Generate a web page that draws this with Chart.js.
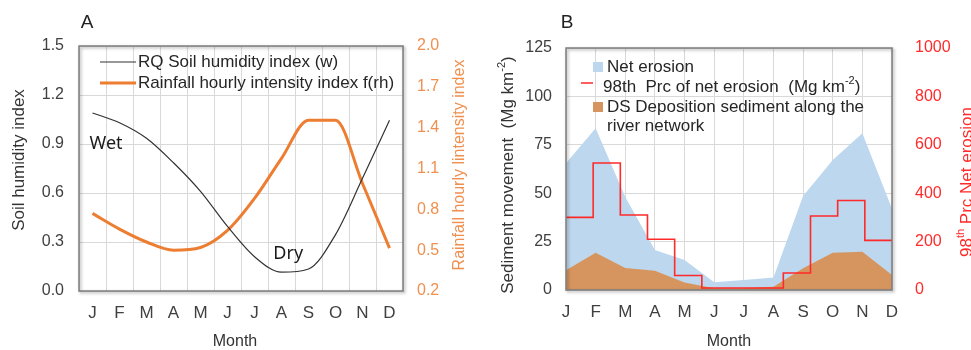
<!DOCTYPE html>
<html>
<head>
<meta charset="utf-8">
<script src="https://cdn.jsdelivr.net/npm/chart.js@4.4.0/dist/chart.umd.min.js"></script>
<style>
  body { margin: 0; background: #fff; }
  #wrap { position: relative; width: 971px; height: 350px; overflow: hidden; }
  #chartA { position: absolute; left: 0; top: 0; }
  #chartB { position: absolute; left: 490px; top: 0; }
</style>
</head>
<body>
<div id="wrap">
  <canvas id="chartA" width="490" height="350"></canvas>
  <canvas id="chartB" width="481" height="350"></canvas>
</div>
<script>
// months shared by both panels
const months = ["J", "F", "M", "A", "M", "J", "J", "A", "S", "O", "N", "D"];

// panel A
const soilHumidity = [1.09, 1.03, 0.935, 0.785, 0.61, 0.395, 0.21, 0.115, 0.135, 0.345, 0.69, 1.045];
const rainIntensity = [0.77, 0.655, 0.56, 0.5, 0.52, 0.645, 0.88, 1.175, 1.455, 1.455, 0.99, 0.515];
const humidityRange = [0, 1.5, 0.3];
const rainRange = [0.2, 2.0, 0.3];

// panel B
const netErosion = [65.5, 83.6, 48, 20.7, 15.5, 4, 5.2, 6.4, 48.5, 67.2, 81, 42];
const deposition = [10.2, 19.3, 11.3, 10, 3.9, 0.9, 0.9, 1.7, 11.2, 19.3, 19.8, 7.8];
const prc98 = [300, 525, 310, 210, 60, 8, 8, 8, 70, 306, 370, 205];
const sedimentRange = [0, 125, 25];
const prcRange = [0, 1000, 200];

const FONT = "'Liberation Sans', Arial, sans-serif";
const NOTE_FONT = "'Noto Sans', 'Open Sans', sans-serif";
const GRID = "#d9d9d9";
const TXT = "#404040";
const ORANGE = "#ED7D31";
const ORANGE_TXT = "#EF9050";
const RED = "#FF2A2A";
const BLUE_FILL = "#BDD7EE";
const BROWN_FILL = "#D6955F";

Chart.defaults.font.family = FONT;
Chart.defaults.animation = false;

// draw a string made of normal and superscript parts, centred on (x, y)
function richText(ctx, parts, x, y, size, color, rot) {
  ctx.save();
  ctx.translate(x, y);
  if (rot) ctx.rotate(rot);
  ctx.fillStyle = color;
  ctx.textBaseline = "middle";
  ctx.textAlign = "left";
  let total = 0;
  parts.forEach(p => {
    ctx.font = (p.sup ? Math.round(size * 0.65) : size) + "px " + FONT;
    p.w = ctx.measureText(p.t).width;
    total += p.w;
  });
  let cx = -total / 2;
  parts.forEach(p => {
    ctx.font = (p.sup ? Math.round(size * 0.65) : size) + "px " + FONT;
    ctx.fillText(p.t, cx, p.sup ? -size * 0.35 : 0);
    cx += p.w;
  });
  ctx.restore();
}

// same, but left aligned, for legend rows
function richTextLeft(ctx, parts, x, y) {
  const size = 17;
  ctx.save();
  ctx.fillStyle = "#262626";
  ctx.textBaseline = "middle";
  ctx.textAlign = "left";
  let cx = x;
  parts.forEach(p => {
    ctx.font = (p.sup ? 11 : size) + "px " + FONT;
    ctx.fillText(p.t, cx, p.sup ? y - 6 : y);
    cx += ctx.measureText(p.t).width;
  });
  ctx.restore();
}

function frame(chart) {
  const a = chart.chartArea;
  const ctx = chart.ctx;
  ctx.save();
  ctx.shadowColor = "rgba(0,0,0,0.35)";
  ctx.shadowBlur = 3;
  ctx.shadowOffsetX = 1.5;
  ctx.shadowOffsetY = 1.5;
  ctx.strokeStyle = "#7f7f7f";
  ctx.lineWidth = 1.5;
  ctx.strokeRect(a.left, a.top, a.right - a.left, a.bottom - a.top);
  ctx.restore();
}

const decorA = {
  id: "decorA",
  afterDraw(chart) {
    const ctx = chart.ctx;
    frame(chart);
    const xs = chart.scales.x, ys = chart.scales.y;

    richText(ctx, [{ t: "A" }], 87, 23, 19, "#222");
    richText(ctx, [{ t: "Soil humidity index" }], 19, 160, 17, "#333", -Math.PI / 2);
    richText(ctx, [{ t: "Rainfall hourly lintensity index" }], 460, 165, 16, ORANGE_TXT, -Math.PI / 2);
    richText(ctx, [{ t: "Month" }], 235, 342, 16, "#333");

    // legend
    ctx.save();
    ctx.lineCap = "butt";
    ctx.strokeStyle = "#333"; ctx.lineWidth = 1.2;
    ctx.beginPath(); ctx.moveTo(100, 62); ctx.lineTo(136, 62); ctx.stroke();
    ctx.strokeStyle = ORANGE; ctx.lineWidth = 3;
    ctx.beginPath(); ctx.moveTo(100, 83); ctx.lineTo(136, 83); ctx.stroke();
    ctx.restore();
    richTextLeft(ctx, [{ t: "RQ Soil humidity index (w)" }], 138, 62);
    richTextLeft(ctx, [{ t: "Rainfall hourly intensity index f(rh)" }], 138, 83);

    // notes
    ctx.save();
    ctx.font = "18px " + NOTE_FONT;
    ctx.fillStyle = "#1a1a1a";
    ctx.textBaseline = "middle";
    ctx.textAlign = "left";
    ctx.fillText("Wet", xs.getPixelForValue(0) - 3, ys.getPixelForValue(0.9));
    ctx.textAlign = "center";
    ctx.fillText("Dry", xs.getPixelForValue(7.25), ys.getPixelForValue(0.23));
    ctx.restore();
  }
};

const decorB = {
  id: "decorB",
  afterDraw(chart) {
    const ctx = chart.ctx;
    frame(chart);

    richText(ctx, [{ t: "B" }], 77, 23, 19, "#222");
    richText(ctx, [{ t: "Sediment movement  (Mg km" }, { t: "-2", sup: true }, { t: ")" }], 18, 175, 17, "#333", -Math.PI / 2);
    richText(ctx, [{ t: "98" }, { t: "th", sup: true }, { t: " Prc Net erosion" }], 477, 182, 17, RED, -Math.PI / 2);
    richText(ctx, [{ t: "Month" }], 239, 342, 16, "#333");

    // legend
    ctx.save();
    ctx.fillStyle = BLUE_FILL;
    ctx.fillRect(103, 62, 10, 10);
    ctx.fillStyle = BROWN_FILL;
    ctx.fillRect(103, 102, 10, 10);
    ctx.strokeStyle = RED; ctx.lineWidth = 1.5;
    ctx.beginPath(); ctx.moveTo(91, 83); ctx.lineTo(103, 83); ctx.stroke();
    ctx.restore();
    richTextLeft(ctx, [{ t: "Net erosion" }], 117, 67);
    richTextLeft(ctx, [{ t: "98th  Prc of net erosion  (Mg km" }, { t: "-2", sup: true }, { t: ")" }], 113, 87);
    richTextLeft(ctx, [{ t: "DS Deposition sediment along the" }], 117, 107);
    richTextLeft(ctx, [{ t: "river network" }], 117, 126);
  }
};

new Chart(document.getElementById("chartA"), {
  type: "line",
  data: {
    labels: months,
    datasets: [
      {
        label: "RQ Soil humidity index (w)",
        data: soilHumidity,
        borderColor: "#333",
        borderWidth: 1.2,
        pointRadius: 0,
        cubicInterpolationMode: "monotone",
        yAxisID: "y",
      },
      {
        label: "Rainfall hourly intensity index f(rh)",
        data: rainIntensity,
        borderColor: ORANGE,
        borderWidth: 3,
        pointRadius: 0,
        cubicInterpolationMode: "monotone",
        yAxisID: "y1",
      },
    ],
  },
  options: {
    responsive: false,
    layout: { padding: { top: 46, left: 0, right: 0, bottom: 0 } },
    plugins: { legend: { display: false }, tooltip: { enabled: false } },
    scales: {
      x: {
        offset: true,
        grid: { offset: true, color: GRID, drawTicks: false },
        border: { display: false },
        ticks: { color: TXT, font: { size: 17 }, padding: 12, maxRotation: 0 },
        afterFit: (s) => { s.height = 59; },
      },
      y: {
        position: "left",
        min: humidityRange[0],
        max: humidityRange[1],
        ticks: { stepSize: humidityRange[2], color: TXT, font: { size: 16 }, padding: 15, callback: (v) => v.toFixed(1) },
        grid: { color: GRID, drawTicks: false },
        border: { display: false },
        afterFit: (s) => { s.width = 79; },
      },
      y1: {
        position: "right",
        min: rainRange[0],
        max: rainRange[1],
        ticks: { stepSize: rainRange[2], color: ORANGE_TXT, font: { size: 16 }, padding: 14, callback: (v) => v.toFixed(1) },
        grid: { display: false, drawTicks: false },
        border: { display: false },
        afterFit: (s) => { s.width = 87; },
      },
    },
  },
  plugins: [decorA],
});

// step line: each month's value held across its own bin, last value closes the final bin
const prcSteps = prc98.map((v, i) => ({ x: i, y: v }));
prcSteps.push({ x: prc98.length, y: prc98[prc98.length - 1] });

new Chart(document.getElementById("chartB"), {
  type: "line",
  data: {
    labels: months,
    datasets: [
      {
        label: "98th Prc of net erosion",
        data: prcSteps,
        xAxisID: "x2",
        yAxisID: "y1",
        stepped: "before",
        borderColor: RED,
        borderWidth: 1.6,
        pointRadius: 0,
        order: 0,
      },
      {
        label: "DS Deposition sediment along the river network",
        data: deposition,
        backgroundColor: BROWN_FILL,
        borderWidth: 0,
        pointRadius: 0,
        fill: "origin",
        order: 1,
      },
      {
        label: "Net erosion",
        data: netErosion,
        backgroundColor: BLUE_FILL,
        borderWidth: 0,
        pointRadius: 0,
        fill: "origin",
        order: 2,
      },
    ],
  },
  options: {
    responsive: false,
    layout: { padding: { top: 48, left: 0, right: 0, bottom: 0 } },
    plugins: { legend: { display: false }, tooltip: { enabled: false } },
    scales: {
      x: {
        offset: false,
        grid: { color: GRID, drawTicks: false },
        border: { display: false },
        ticks: { color: TXT, font: { size: 17 }, padding: 12, maxRotation: 0 },
        afterFit: (s) => { s.height = 60; },
      },
      x2: {
        type: "linear",
        display: false,
        min: 0,
        max: months.length,
      },
      y: {
        position: "left",
        min: sedimentRange[0],
        max: sedimentRange[1],
        ticks: { stepSize: sedimentRange[2], color: TXT, font: { size: 16 }, padding: 14 },
        grid: { color: GRID, drawTicks: false },
        border: { display: false },
        afterFit: (s) => { s.width = 76; },
      },
      y1: {
        position: "right",
        min: prcRange[0],
        max: prcRange[1],
        ticks: { stepSize: prcRange[2], color: RED, font: { size: 16 }, padding: 23, callback: (v) => String(v) },
        grid: { display: false, drawTicks: false },
        border: { display: false },
        afterFit: (s) => { s.width = 79; },
      },
    },
  },
  plugins: [decorB],
});
</script>
</body>
</html>
